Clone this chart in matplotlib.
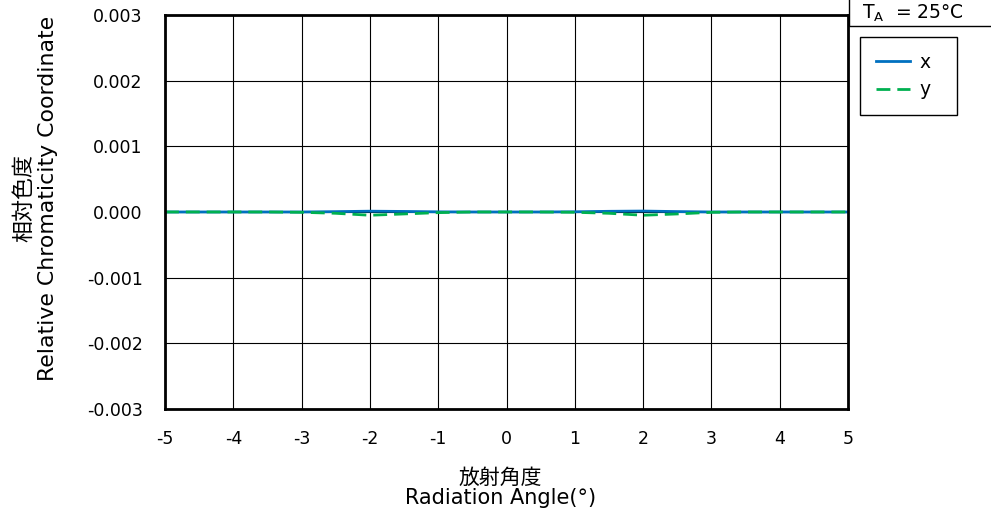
import matplotlib
matplotlib.use("Agg")
import matplotlib.pyplot as plt
from matplotlib.patches import Rectangle

plt.rcParams['font.family'] = ['DejaVu Sans', 'Noto Sans CJK JP']
plt.rcParams['axes.unicode_minus'] = False

angle = [-5, -4.5, -4, -3.5, -3, -2.5, -2, -1.5, -1, -0.5, 0,
         0.5, 1, 1.5, 2, 2.5, 3, 3.5, 4, 4.5, 5]
x_coord = [0.0, 0.0, 0.0, 0.0, 0.0, 0.000005, 0.000012, 0.000008, 0.000002, 0.0, 0.0,
           0.0, 0.000003, 0.00001, 0.000014, 0.000006, 0.0, 0.0, 0.0, 0.0, 0.0]
y_coord = [0.0, 0.0, 0.0, 0.0, -0.000005, -0.00002, -0.00005, -0.00003, -0.00001, 0.0, 0.0,
           0.0, -0.000005, -0.00002, -0.00005, -0.00003, -0.000005, 0.0, 0.0, 0.0, 0.0]
xticks = [-5, -4, -3, -2, -1, 0, 1, 2, 3, 4, 5]
yticks = [-0.003, -0.002, -0.001, 0.0, 0.001, 0.002, 0.003]

fig = plt.figure(figsize=(9.91, 5.16), dpi=100)
ax = fig.add_axes([0.1665, 0.2074, 0.6892, 0.7636])

ax.plot(angle, x_coord, color='#0070C0', lw=2, label='x')
ax.plot(angle, y_coord, color='#00B050', lw=2, ls=(0, (5, 2.5)), label='y')

ax.set_xlim(-5, 5)
ax.set_ylim(-0.003, 0.003)
ax.set_xticks(xticks)
ax.set_yticks(yticks)
ax.set_yticklabels(['%.3f' % v for v in yticks])
ax.tick_params(length=0, labelsize=12.5, colors='black')
ax.tick_params(axis='x', pad=15)
ax.tick_params(axis='y', pad=16)
ax.grid(True, color='black', lw=0.8)
for s in ax.spines.values():
    s.set_linewidth(2)
    s.set_color('black')

ax.set_xlabel('放射角度\nRadiation Angle(°)', fontsize=15, linespacing=1.0)
ax.xaxis.set_label_coords(0.491, -0.15)
ax.set_ylabel('相対色度\nRelative Chromaticity Coordinate', fontsize=15.8, linespacing=1.25)
ax.yaxis.set_label_coords(-0.157, 0.535)

# TA box, cut off at the top right corner
fig.patches.append(Rectangle((849 / 991, 1 - 26 / 516), 0.2, 0.1,
                             transform=fig.transFigure, fc='white', ec='black', lw=1))
fig.text(862 / 991, 1 - 13 / 516, 'T$_{\\mathregular{A}}$  = 25°C', fontsize=13.5,
         ha='left', va='center')

leg = ax.legend(loc='upper left',
                bbox_to_anchor=(860 / 991, 1 - 37 / 516, 97 / 991, 0.0),
                bbox_transform=fig.transFigure, mode='expand', borderaxespad=0,
                fontsize=13.5, frameon=True, fancybox=False, edgecolor='black',
                framealpha=1, borderpad=0.85, handlelength=1.8, handletextpad=0.5,
                labelspacing=0.45)
leg.get_frame().set_linewidth(1)

fig.savefig('out.png', dpi=100)
